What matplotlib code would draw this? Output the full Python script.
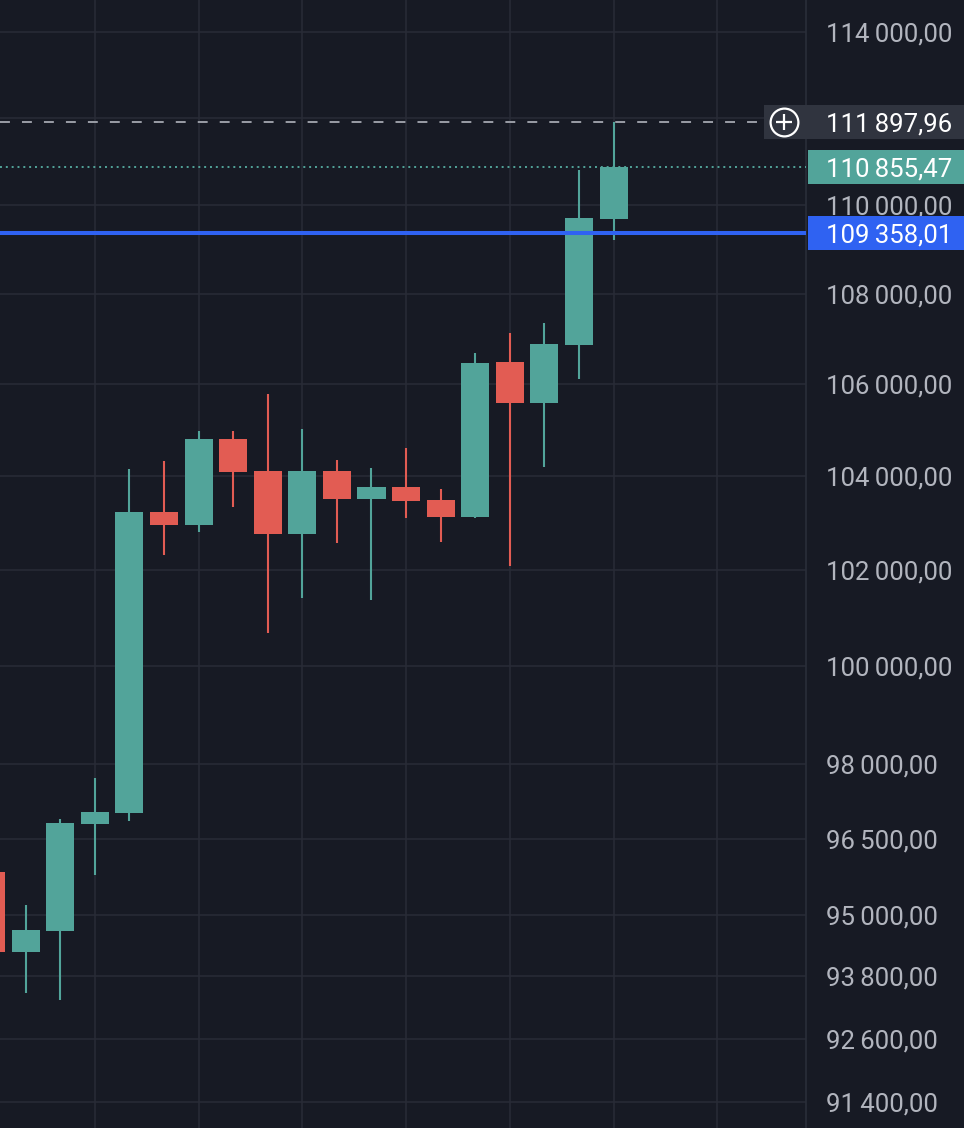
import matplotlib
matplotlib.use('Agg')

import numpy as np
import matplotlib.pyplot as plt
import matplotlib.transforms as mtransforms
from matplotlib.path import Path
from matplotlib.ticker import FixedLocator, NullLocator

# daily candles, oldest first (first one is cut off at the left edge)
opens = [95843, 94273, 94683, 96798, 97019, 103241, 102964, 104809, 104119, 102773,
         104119, 103519, 103775, 103497, 103135, 106489, 105591, 106864, 109681]
highs = [96000, 95192, 96898, 97722, 104162, 104334, 104983, 104983, 105788, 105026,
         104356, 104184, 104615, 103732, 106687, 107129, 107350, 110797, 111897.96]
lows = [93900, 93478, 93342, 95784, 96858, 102328, 102816, 103348, 100693, 101424,
        102582, 101382, 103113, 102603, 103113, 102096, 104205, 106116, 109206]
closes = [94273, 94702, 96818, 97039, 103241, 102964, 104809, 104097, 102773, 104119,
          103519, 103775, 103476, 103135, 106467, 105591, 106886, 109704, 110855.47]

last_price = 110855.47
high_price = 111897.96
alert_price = 109358.01

price_ticks = [91400, 92600, 93800, 95000, 96500, 98000, 100000, 102000,
               104000, 106000, 108000, 110000, 112000, 114000]
# the 112 000 label sits under the high-price tag, so it is not shown
hidden_ticks = [112000]

BG = '#171a24'
GRID = '#282c37'
GREEN = '#52a49a'
RED = '#e25c53'
BLUE = '#2f62f2'
LABEL = '#b2b5be'
FS = 18.5

# Roboto has tabular digits, like the price scale in the screenshot
plt.rcParams['font.family'] = ['Roboto', 'DejaVu Sans']


def fmt(v):
    return f"{v:,.2f}".replace(',', '\u2009').replace('.', ',')


def box_marker(w, h):
    verts = [(-w / 2, -h / 2), (w / 2, -h / 2), (w / 2, h / 2), (-w / 2, h / 2), (-w / 2, -h / 2)]
    return Path(verts, closed=True)


fig = plt.figure(figsize=(9.64, 11.28), dpi=100, facecolor=BG)
ax = fig.add_axes([0, 0, 806 / 964, 1])
ax.set_facecolor(BG)
ax.set_yscale('log')

idx = np.arange(len(opens))
o = np.array(opens)
c = np.array(closes)
cols = np.where(c >= o, GREEN, RED)

ax.vlines(idx, lows, highs, colors=cols, lw=1.5, zorder=3)
ax.bar(idx, np.abs(c - o), bottom=np.minimum(o, c), width=0.81, color=cols, lw=0, zorder=4)

ax.set_xlim(0.26, 0.26 + 806 / 34.59)
ax.set_ylim(90905, 114756)

ax.set_xticks(np.arange(3, 24, 3))
ax.tick_params(axis='x', length=0, labelbottom=False)
ax.grid(True, color=GRID, lw=1.1, zorder=0)
ax.set_axisbelow(True)

ax.yaxis.tick_right()
ax.yaxis.set_major_locator(FixedLocator(price_ticks))
ax.yaxis.set_minor_locator(NullLocator())
ax.set_yticklabels(['' if v in hidden_ticks else fmt(v) for v in price_ticks], ha='left')
ax.tick_params(axis='y', length=0, pad=14.4, labelcolor=LABEL, labelsize=FS)

for s in ['top', 'left', 'bottom']:
    ax.spines[s].set_visible(False)
ax.spines['right'].set_color('#2a2e39')
ax.spines['right'].set_linewidth(1.2)

# price lines
ax.axhline(high_price, xmax=0.94, color='#9a9da6', lw=1.4, ls=(0, (5.1, 6.2)), zorder=5)
ax.axhline(last_price, color=GREEN, lw=1.4, ls=(0, (1, 2)), zorder=5)
ax.axhline(alert_price, color=BLUE, lw=2.9, zorder=5)

# price tags on the scale
blend = mtransforms.blended_transform_factory(ax.transAxes, ax.transData)
tags = [
    (high_price, '#30343f', 200, 864),
    (last_price, GREEN, 156, 886),
    (alert_price, BLUE, 156, 886),
]
for price, face, w, cx in tags:
    ax.plot([cx / 806], [price], marker=box_marker(w, 34), markersize=w * 0.72,
            color=face, mew=0, transform=blend, clip_on=False, zorder=10)
    ax.text(826 / 806, price, fmt(price), transform=blend, ha='left', va='center_baseline',
            color='white', fontsize=FS, clip_on=False, zorder=11)

# "add alert" icon on the high tag
ax.plot([784 / 806], [high_price], marker='o', markersize=20, mfc='none', mec='white',
        mew=1.6, transform=blend, clip_on=False, zorder=12)
ax.plot([784 / 806], [high_price], marker='+', markersize=12, mec='white',
        mew=1.6, transform=blend, clip_on=False, zorder=12)

fig.savefig('out.png', dpi=100, facecolor=BG)
